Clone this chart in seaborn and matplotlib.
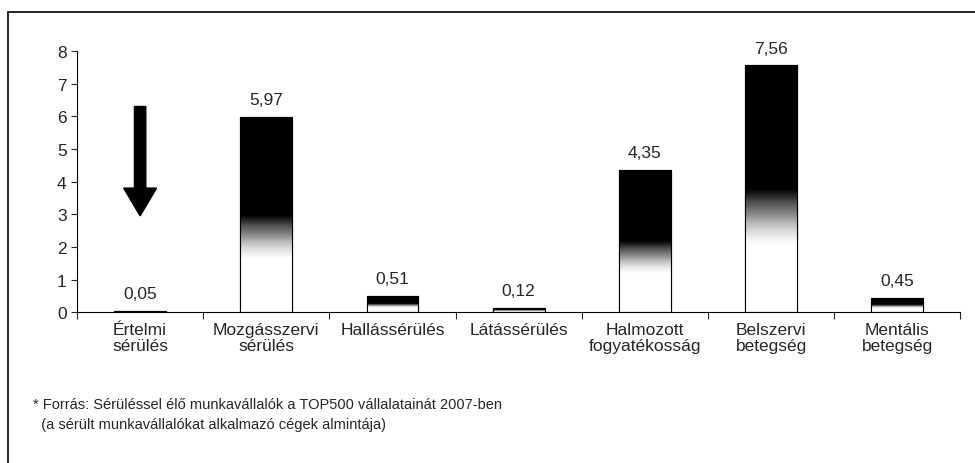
import numpy as np
import pandas as pd
import seaborn as sns
import matplotlib.pyplot as plt
from matplotlib.patches import Rectangle, FancyArrow

categories = ['Értelmi\nsérülés', 'Mozgásszervi\nsérülés', 'Hallássérülés', 'Látássérülés',
              'Halmozott\nfogyatékosság', 'Belszervi\nbetegség', 'Mentális\nbetegség']
values = [0.05, 5.97, 0.51, 0.12, 4.35, 7.56, 0.45]
labels = ['0,05', '5,97', '0,51', '0,12', '4,35', '7,56', '0,45']
footnote = ['* Forrás: Sérüléssel élő munkavállalók a TOP500 vállalatainát 2007-ben',
            '  (a sérült munkavállalókat alkalmazó cégek almintája)']

sns.set_style('white')
plt.rcParams['font.family'] = ['Liberation Sans Narrow', 'Liberation Sans', 'DejaVu Sans']

df = pd.DataFrame({'cat': categories, 'val': values})

fig = plt.figure(figsize = (9.75, 4.64), dpi = 100)
ax = fig.add_axes([0.079, 0.325, 0.906, 0.563])
sns.barplot(data = df, x = 'cat', y = 'val', color = 'black', width = 0.41, ax = ax,
            saturation = 1, edgecolor = 'black', linewidth = 0.8)

# white-to-black gradient inside each bar
grad = np.linspace(0, 1, 200).reshape(-1, 1)
grad = np.clip((grad - 0.27) / 0.23, 0, 1)
for p in ax.patches:
    x0, w, h = p.get_x(), p.get_width(), p.get_height()
    im = ax.imshow(grad, cmap = 'Greys', vmin = 0, vmax = 1, origin = 'lower', aspect = 'auto',
                   extent = (x0, x0 + w, 0, h), zorder = p.get_zorder() + 0.1, interpolation = 'bilinear')
    im.set_clip_path(p)
    ax.add_patch(Rectangle((x0, 0), w, h, fill = False, edgecolor = 'black', linewidth = 0.8,
                           zorder = p.get_zorder() + 0.2))

for i, (v, t) in enumerate(zip(values, labels)):
    ax.text(i, v + 0.3, t, ha = 'center', va = 'bottom', fontsize = 12.5)

ax.add_patch(FancyArrow(0, 6.3, 0, -3.35, width = 0.09, head_width = 0.26, head_length = 0.85,
                        length_includes_head = True, color = 'black', zorder = 5))

ax.set_xlim(-0.5, 6.5)
ax.set_ylim(0, 8)
ax.set_yticks(range(0, 9))
ax.set_xticks(np.arange(-0.5, 7, 1))
ax.set_xticklabels([])
ax.set_xticks(range(7), minor = True)
ax.set_xticklabels(categories, minor = True, fontsize = 12.5, linespacing = 1.05)
ax.tick_params(axis = 'x', which = 'major', direction = 'out', length = 5, width = 0.8, bottom = True)
ax.tick_params(axis = 'x', which = 'minor', length = 0, pad = 7)
ax.tick_params(axis = 'y', direction = 'out', length = 4, width = 0.8, left = True, labelsize = 12.5)
ax.set_xlabel('')
ax.set_ylabel('')
sns.despine(ax = ax)
for s in ('left', 'bottom'):
    ax.spines[s].set_color('black')
    ax.spines[s].set_linewidth(0.8)

fig.text(0.034, 0.127, footnote[0], fontsize = 10.5, va = 'center')
fig.text(0.034, 0.084, footnote[1], fontsize = 10.5, va = 'center')

fig.add_artist(Rectangle((0.008, -0.02), 1.0, 0.992, transform = fig.transFigure, fill = False,
                         edgecolor = 'black', linewidth = 1.2))

fig.savefig('out.png', dpi = 100)
plt.close()
